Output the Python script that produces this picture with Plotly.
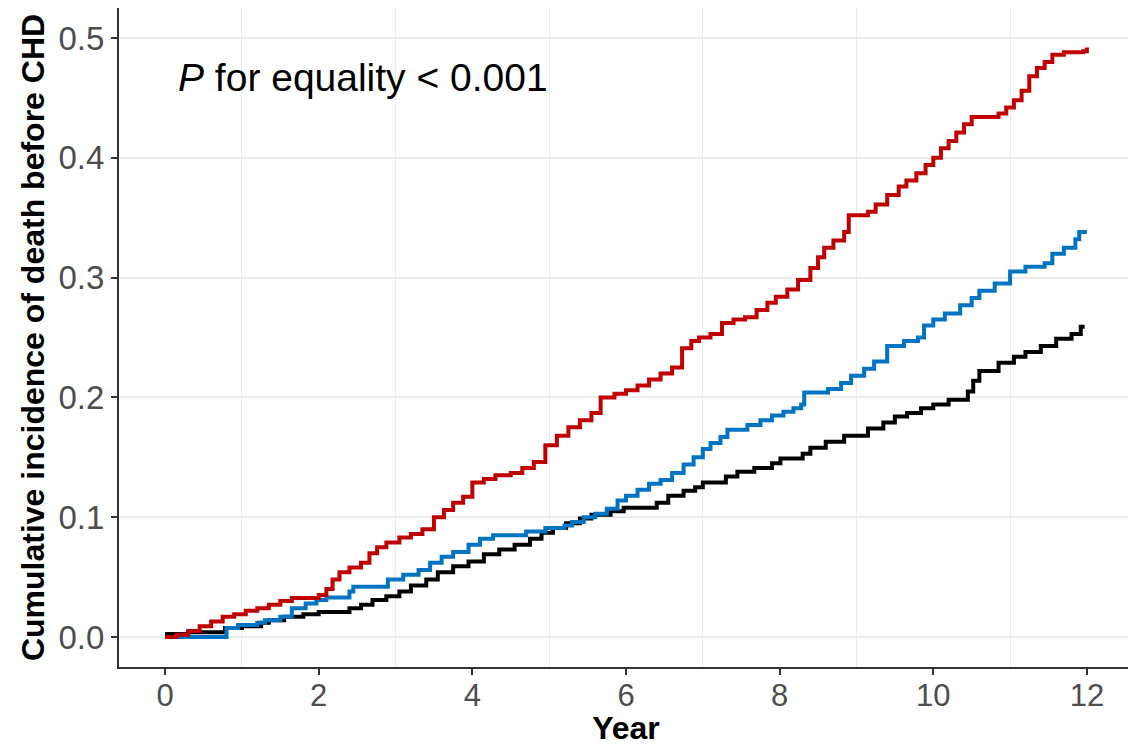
import plotly.graph_objects as go

# Step data: (year, cumulative incidence)
red_steps = [(0, 0), (0.15, 0.002), (0.3, 0.005), (0.45, 0.009), (0.6, 0.013), (0.75, 0.017),
             (0.9, 0.019), (1.05, 0.022), (1.2, 0.024), (1.35, 0.027), (1.5, 0.030), (1.65, 0.0325),
             (2.0, 0.035), (2.1, 0.040), (2.18, 0.048), (2.27, 0.054), (2.4, 0.058), (2.55, 0.062),
             (2.66, 0.070), (2.76, 0.075), (2.88, 0.079), (3.05, 0.083), (3.2, 0.086), (3.35, 0.090),
             (3.5, 0.100), (3.63, 0.106), (3.75, 0.112), (3.88, 0.117), (4.0, 0.129), (4.15, 0.132),
             (4.3, 0.135), (4.5, 0.137), (4.65, 0.141), (4.8, 0.146), (4.95, 0.160), (5.1, 0.168),
             (5.25, 0.175), (5.4, 0.181), (5.55, 0.187), (5.67, 0.200), (5.85, 0.203), (6.0, 0.206),
             (6.15, 0.210), (6.3, 0.215), (6.45, 0.220), (6.6, 0.225), (6.73, 0.241), (6.85, 0.247),
             (6.95, 0.250), (7.1, 0.253), (7.25, 0.262), (7.4, 0.265), (7.55, 0.267), (7.7, 0.273),
             (7.84, 0.279), (7.95, 0.284), (8.1, 0.290), (8.24, 0.298), (8.4, 0.308), (8.5, 0.317),
             (8.58, 0.325), (8.7, 0.331), (8.84, 0.338), (8.9, 0.352), (9.15, 0.355), (9.25, 0.361),
             (9.4, 0.369), (9.55, 0.376), (9.65, 0.381), (9.78, 0.387), (9.9, 0.394), (10.0, 0.400),
             (10.1, 0.408), (10.2, 0.414), (10.3, 0.421), (10.4, 0.428), (10.5, 0.434), (10.85, 0.437),
             (10.95, 0.442), (11.05, 0.448), (11.15, 0.456), (11.25, 0.468), (11.35, 0.475),
             (11.45, 0.480), (11.55, 0.486), (11.7, 0.488), (11.95, 0.489), (12.0, 0.492)]

blue_steps = [(0, 0), (0.8, 0.0075), (0.95, 0.010), (1.2, 0.012), (1.3, 0.014), (1.5, 0.017),
              (1.65, 0.024), (1.83, 0.028), (1.97, 0.031), (2.1, 0.033), (2.4, 0.038), (2.45, 0.042),
              (2.9, 0.048), (3.1, 0.052), (3.3, 0.056), (3.45, 0.062), (3.6, 0.067), (3.75, 0.071),
              (3.95, 0.077), (4.1, 0.082), (4.27, 0.085), (4.7, 0.088), (4.95, 0.091), (5.2, 0.093),
              (5.3, 0.096), (5.45, 0.100), (5.6, 0.103), (5.75, 0.107), (5.89, 0.114), (6.0, 0.118),
              (6.15, 0.123), (6.3, 0.128), (6.45, 0.131), (6.6, 0.137), (6.75, 0.144), (6.88, 0.150),
              (7.0, 0.157), (7.1, 0.162), (7.23, 0.167), (7.32, 0.173), (7.58, 0.177), (7.75, 0.181),
              (7.9, 0.185), (8.05, 0.188), (8.18, 0.191), (8.28, 0.194), (8.32, 0.204), (8.63, 0.207),
              (8.8, 0.212), (8.93, 0.218), (9.1, 0.224), (9.23, 0.230), (9.4, 0.243), (9.62, 0.247),
              (9.8, 0.250), (9.88, 0.260), (10.0, 0.265), (10.15, 0.270), (10.35, 0.277), (10.5, 0.283),
              (10.6, 0.289), (10.8, 0.295), (11.0, 0.305), (11.2, 0.309), (11.45, 0.312), (11.55, 0.320),
              (11.7, 0.325), (11.85, 0.332), (11.9, 0.338), (12.0, 0.338)]

black_steps = [(0, 0.0025), (0.3, 0.004), (0.78, 0.0075), (1.0, 0.009), (1.25, 0.012), (1.35, 0.014),
               (1.55, 0.017), (1.8, 0.019), (2.0, 0.021), (2.4, 0.024), (2.55, 0.027), (2.7, 0.031),
               (2.88, 0.034), (3.05, 0.038), (3.2, 0.043), (3.4, 0.048), (3.55, 0.054), (3.75, 0.059),
               (3.95, 0.063), (4.15, 0.069), (4.35, 0.073), (4.55, 0.077), (4.75, 0.082), (4.9, 0.087),
               (5.05, 0.091), (5.22, 0.095), (5.4, 0.099), (5.55, 0.102), (5.8, 0.105), (5.97, 0.108),
               (6.4, 0.112), (6.55, 0.118), (6.75, 0.122), (6.9, 0.125), (7.0, 0.129), (7.3, 0.134),
               (7.45, 0.138), (7.67, 0.141), (7.9, 0.145), (8.01, 0.149), (8.3, 0.153), (8.4, 0.158),
               (8.6, 0.163), (8.84, 0.168), (9.15, 0.174), (9.35, 0.179), (9.5, 0.184), (9.66, 0.187),
               (9.84, 0.191), (10.0, 0.194), (10.2, 0.198), (10.45, 0.205), (10.52, 0.214),
               (10.6, 0.222), (10.85, 0.229), (11.05, 0.234), (11.2, 0.238), (11.4, 0.243),
               (11.6, 0.249), (11.8, 0.253), (11.92, 0.259), (11.97, 0.259)]

x_ticks = [0, 2, 4, 6, 8, 10, 12]
y_ticks = [0.0, 0.1, 0.2, 0.3, 0.4, 0.5]
y_tick_text = ["0.0", "0.1", "0.2", "0.3", "0.4", "0.5"]

series = [("black", black_steps, "#000000"),
          ("blue", blue_steps, "#0073C2"),
          ("red", red_steps, "#C00000")]

fig = go.Figure()
for name, steps, color in series:
    xs = [p[0] for p in steps]
    ys = [p[1] for p in steps]
    fig.add_trace(go.Scatter(x=xs, y=ys, mode="lines", name=name,
                             line=dict(color=color, width=4, shape="hv"),
                             showlegend=False))

axis_color = "#333333"
grid_color = "#EBEBEB"
font_family = "Liberation Sans, Arial, sans-serif"
x_tick_font = dict(family=font_family, size=31, color="#4D4D4D")
y_tick_font = dict(family=font_family, size=33, color="#4D4D4D")
title_font = dict(family=font_family, size=32, color="#000000")

# The page body has an 8px default margin, so the figure is sized to fit inside it.
fig.update_layout(
    width=1128, height=738,
    margin=dict(l=111, r=3, t=0, b=79),
    paper_bgcolor="white", plot_bgcolor="white",
    xaxis=dict(range=[-0.6, 12.6], tickvals=x_ticks, ticktext=[str(v) for v in x_ticks],
               automargin=False,
               showgrid=False, zeroline=False,
               showline=True, linecolor=axis_color, linewidth=2, mirror=True,
               ticks="outside", ticklen=6, tickwidth=2, tickcolor=axis_color,
               ticklabelstandoff=-6,
               tickfont=x_tick_font,
               minor=dict(tick0=1, dtick=2, showgrid=True, gridcolor=grid_color, gridwidth=1, ticks=""),
               title=dict(text="<b>Year</b>", font=title_font, standoff=4)),
    yaxis=dict(range=[-0.025, 0.525], tickvals=y_ticks, ticktext=y_tick_text,
               automargin=False,
               showgrid=True, gridcolor=grid_color, gridwidth=2, zeroline=False,
               showline=True, linecolor=axis_color, linewidth=2, mirror=False,
               ticks="outside", ticklen=6, tickwidth=2, tickcolor=axis_color,
               tickfont=y_tick_font,
               title=dict(text="<b>Cumulative incidence of death before CHD</b>", font=title_font, standoff=4)),
    annotations=[dict(x=0.14, y=0.467, xref="x", yref="y", xanchor="left", yanchor="middle",
                      text="<i>P</i> for equality &lt; 0.001", showarrow=False,
                      font=dict(family=font_family, size=39, color="#000000"))],
)

fig.write_html("out.html")
